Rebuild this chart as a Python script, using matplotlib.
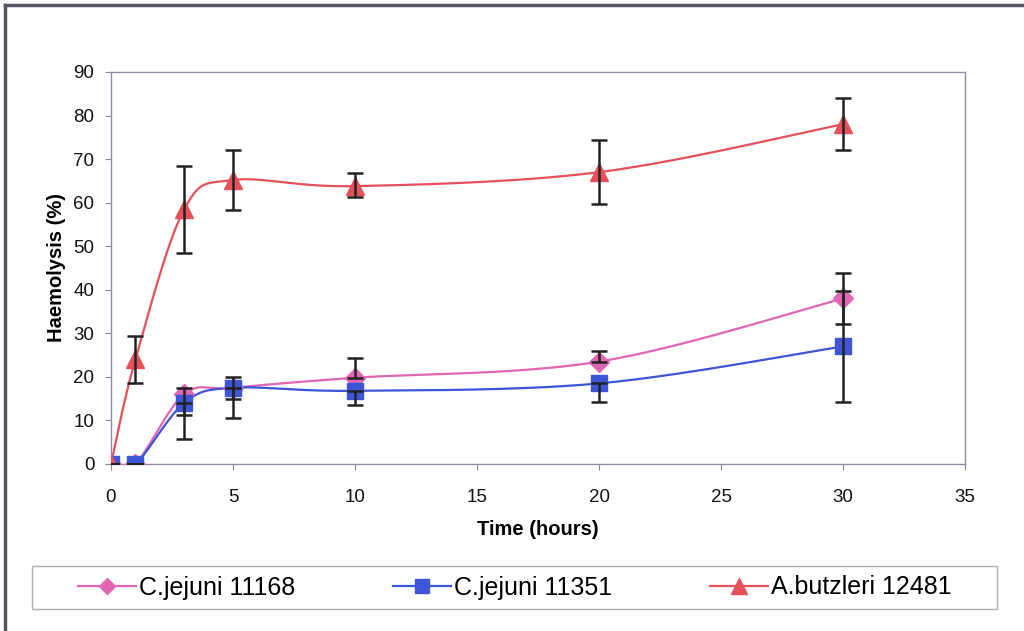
import numpy as np
import matplotlib
matplotlib.use("Agg")
import matplotlib.pyplot as plt
from matplotlib.lines import Line2D
from matplotlib.patches import Rectangle

plt.rcParams['font.family'] = ['Liberation Sans', 'DejaVu Sans']

time_h = [0, 1, 3, 5, 10, 20, 30]

cj11168 = [0, 0, 16.0, 17.5, 19.8, 23.5, 38.0]
cj11168_err_lo = [0, 0, 4.8, 2.5, 0, 0, 5.8]
cj11168_err_hi = [0, 0, 1.5, 2.5, 4.5, 2.5, 5.8]

cj11351 = [0, 0, 14.0, 17.5, 16.8, 18.5, 27.0]
cj11351_err_lo = [0, 0, 8.2, 7.0, 3.3, 4.2, 12.8]
cj11351_err_hi = [0, 0, 0, 0, 0, 0, 12.8]

ab12481 = [0, 24.0, 58.5, 65.2, 63.8, 67.0, 78.0]
ab12481_err_lo = [0, 5.5, 10.0, 6.8, 2.5, 7.2, 6.0]
ab12481_err_hi = [0, 5.5, 10.0, 6.8, 3.0, 7.5, 6.0]

labels = ['C.jejuni 11168', 'C.jejuni 11351', 'A.butzleri 12481']
colors = ['#e065b4', '#3d55d6', '#e5505a']
markers = ['D', 's', '^']
msizes = [10, 11.5, 13]


def smooth(x, y, n=30):
    """Catmull-Rom (Excel-style) smoothing through the data points."""
    x = np.asarray(x, float); y = np.asarray(y, float)
    px = np.concatenate([[x[0]], x, [x[-1]]])
    py = np.concatenate([[y[0]], y, [y[-1]]])
    xs, ys = [], []
    for i in range(1, len(px) - 2):
        p0 = np.array([px[i-1], py[i-1]]); p1 = np.array([px[i], py[i]])
        p2 = np.array([px[i+1], py[i+1]]); p3 = np.array([px[i+2], py[i+2]])
        c1 = p1 + (p2 - p0) / 6.0
        c2 = p2 - (p3 - p1) / 6.0
        t = np.linspace(0, 1, n)[:, None]
        b = ((1-t)**3)*p1 + 3*((1-t)**2)*t*c1 + 3*(1-t)*t**2*c2 + t**3*p2
        xs.append(b[:, 0]); ys.append(b[:, 1])
    return np.concatenate(xs), np.concatenate(ys)


fig = plt.figure(figsize=(10.24, 6.31), dpi=100)
ax = fig.add_axes([111/1024, 1-464/631, (965-111)/1024, (464-72)/631])

series = [
    (cj11168, cj11168_err_lo, cj11168_err_hi),
    (cj11351, cj11351_err_lo, cj11351_err_hi),
    (ab12481, ab12481_err_lo, ab12481_err_hi),
]

handles = []
for (vals, elo, ehi), lab, col, mk, ms in zip(series, labels, colors, markers, msizes):
    sx, sy = smooth(time_h, vals)
    ax.plot(sx, sy, color=col, lw=1.6, zorder=2)
    ax.plot(time_h, vals, linestyle='none', marker=mk, ms=ms, color=col,
            markeredgecolor=col, zorder=3)
    ax.errorbar(time_h, vals, yerr=[elo, ehi], fmt='none', ecolor='#222222',
                elinewidth=1.8, capsize=6, capthick=1.8, zorder=4)
    handles.append(Line2D([0], [0], color=col, lw=1.6, marker=mk, ms=ms*0.85,
                          markeredgecolor=col))

ax.set_xlim(0, 35)
ax.set_ylim(0, 90)
ax.set_xticks(range(0, 36, 5))
ax.set_yticks(range(0, 91, 10))
ax.tick_params(axis='both', labelsize=13.5, colors='#888888', labelcolor='#111111',
               length=4, direction='out')
ax.tick_params(axis='x', pad=14)
ax.tick_params(axis='y', pad=8)
for s in ax.spines.values():
    s.set_color('#8a8fa8')
    s.set_linewidth(1.0)

ax.set_xlabel('Time (hours)', fontsize=14.5, fontweight='bold', labelpad=10)
ax.set_ylabel('Haemolysis (%)', fontsize=14.5, fontweight='bold', labelpad=5)

leg = fig.legend(handles, labels, ncol=3, mode='expand',
                 bbox_to_anchor=(78/1024, 1-609/631, (952-78)/1024, 43/631),
                 loc='center', fontsize=18, frameon=False,
                 borderaxespad=0, handlelength=2.3, handletextpad=0.15,
                 borderpad=0.0)

fig.add_artist(Rectangle((32/1024, 1-609/631), (997-32)/1024, 43/631,
                         transform=fig.transFigure, fill=False,
                         edgecolor='#b0b0b0', lw=1.0))

# outer chart frame (left and top edges)
fig.add_artist(Line2D([5/1024, 5/1024], [0, 1-5/631], transform=fig.transFigure,
                      color='#555566', lw=2.5))
fig.add_artist(Line2D([5/1024, 1], [1-5/631, 1-5/631], transform=fig.transFigure,
                      color='#555566', lw=2.5))

fig.savefig('out.png', dpi=100)
